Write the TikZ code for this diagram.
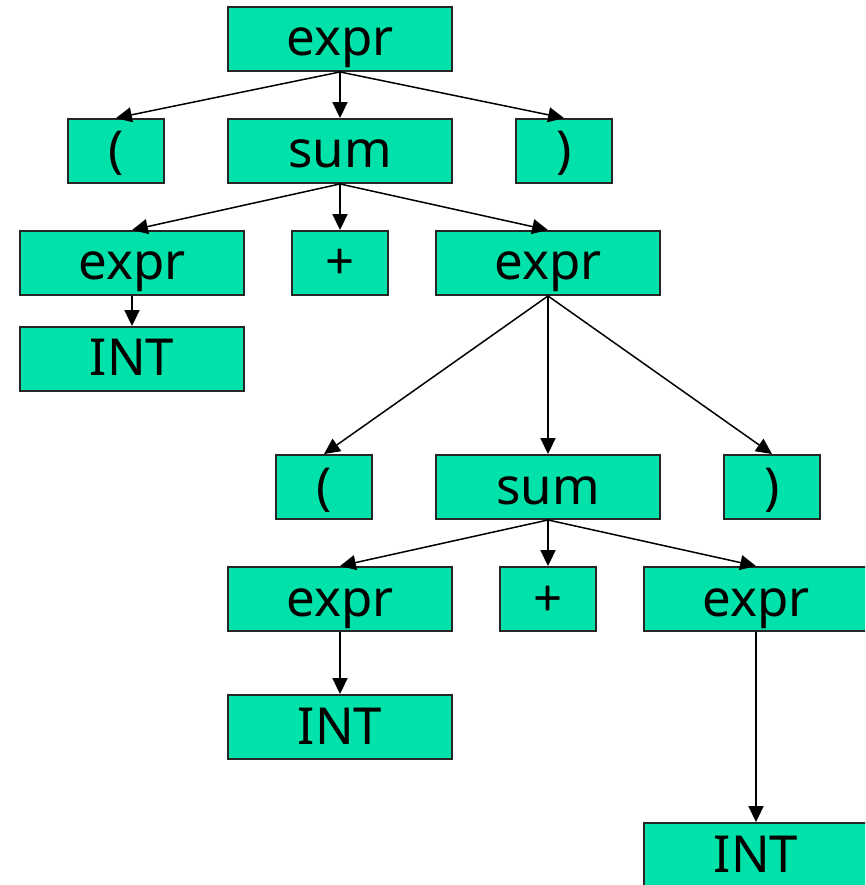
\documentclass[tikz,border=0pt]{standalone}
\usepackage{fontspec}
\setmainfont{Noto Sans}
\usetikzlibrary{arrows.meta}
\definecolor{boxgreen}{RGB}{0,226,170}
\begin{document}
\begin{tikzpicture}[x=0.02cm,y=-0.02cm,
  sym/.style={draw=black!85,line width=1.1pt,fill=boxgreen,inner sep=0pt,
    minimum height=1.28cm,text height=0.7cm,text depth=0.02cm,
    font=\fontsize{29}{33}\selectfont},
  wide/.style={sym,minimum width=4.48cm},
  narrow/.style={sym,minimum width=1.92cm},
  edge/.style={line width=0.85pt,-{Triangle[length=9pt,width=8.5pt]}}]
\useasboundingbox (0,0) rectangle (865,885);
\clip (0,0) rectangle (865,885);
% first level
\node[wide]   (e0)  at (340,39)  {expr};
\node[narrow] (lp1) at (116,151) {(};
\node[wide]   (s1)  at (340,151) {sum};
\node[narrow] (rp1) at (564,151) {)};
% second level
\node[wide]   (e1)  at (132,263) {expr};
\node[narrow] (pl1) at (340,263) {+};
\node[wide]   (e2)  at (548,263) {expr};
\node[wide]   (i1)  at (132,359) {INT};
% nested parenthesised sum
\node[narrow] (lp2) at (324,487) {(};
\node[wide]   (s2)  at (548,487) {sum};
\node[narrow] (rp2) at (772,487) {)};
\node[wide]   (e3)  at (340,599) {expr};
\node[narrow] (pl2) at (548,599) {+};
\node[wide]   (e4)  at (756,599) {expr};
\node[wide]   (i2)  at (340,727) {INT};
\node[wide]   (i3)  at (756,855) {INT};
% connectors
\foreach \a/\b in {e0/lp1,e0/s1,e0/rp1,s1/e1,s1/pl1,s1/e2,e1/i1,
                   e2/lp2,e2/s2,e2/rp2,s2/e3,s2/pl2,s2/e4,e3/i2,e4/i3}
  \draw[edge] (\a.south) -- (\b.north);
\end{tikzpicture}
\end{document}
